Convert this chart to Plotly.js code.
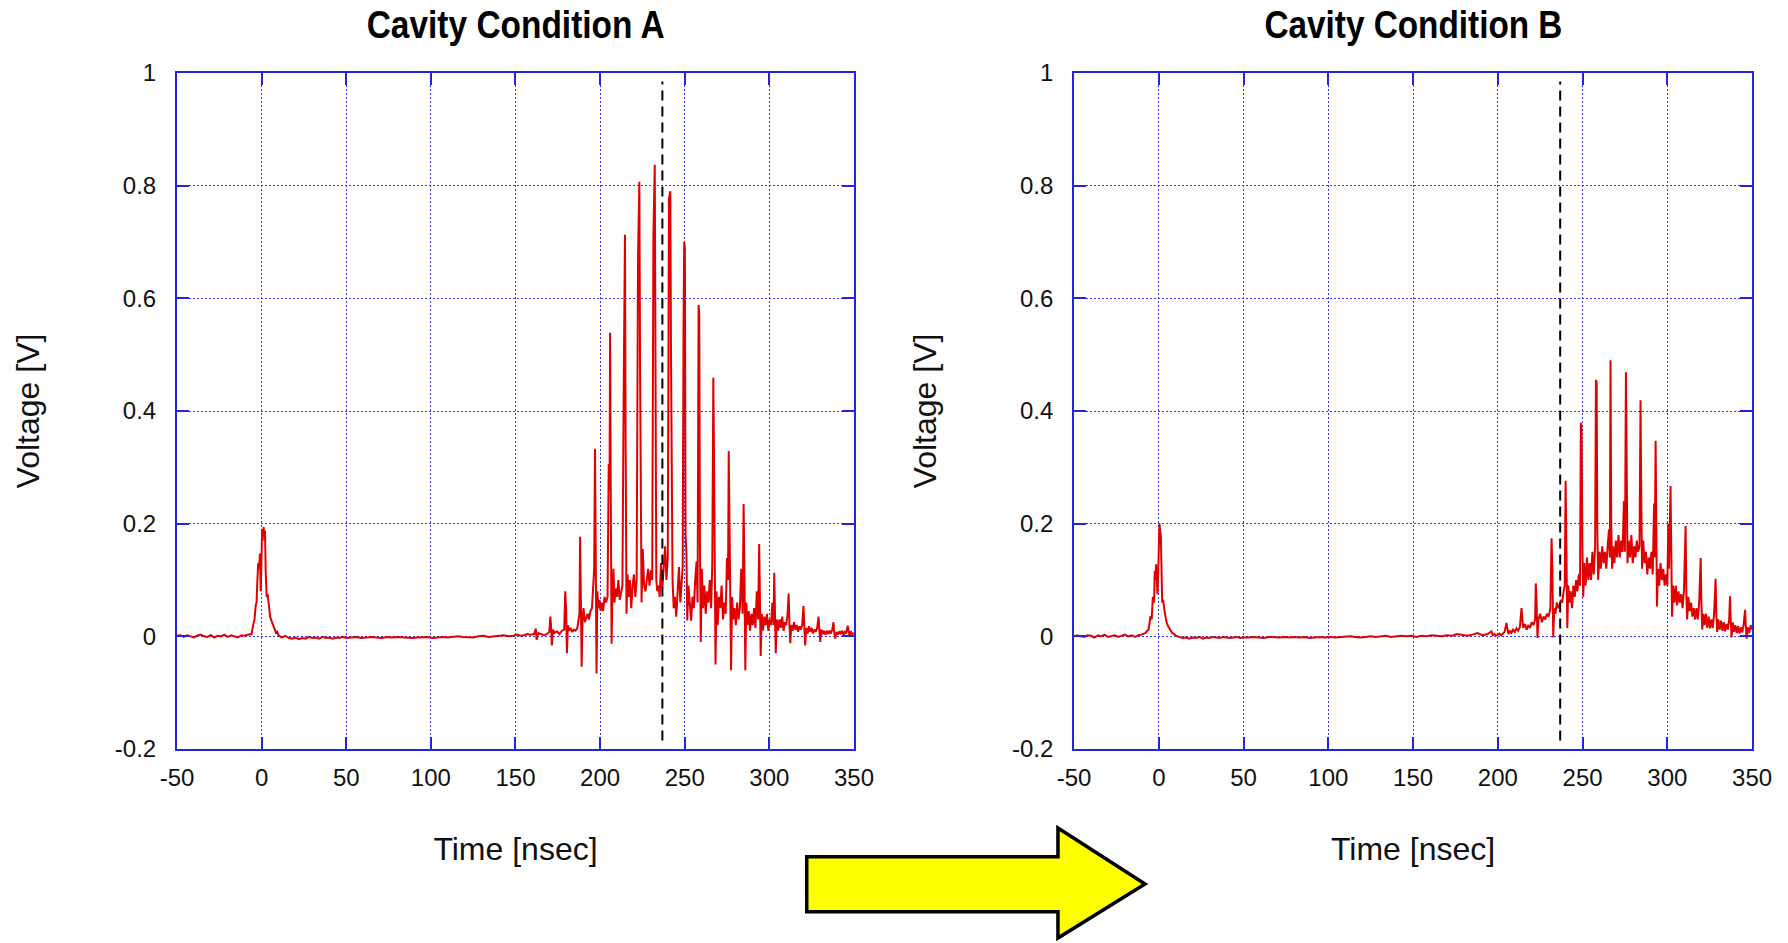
<!DOCTYPE html>
<html>
<head>
<meta charset="utf-8">
<script src="https://cdn.plot.ly/plotly-3.0.1.min.js"></script>
<style>
html,body{margin:0;padding:0;background:#ffffff;}
#chart{width:1788px;height:943px;}
</style>
</head>
<body>
<div id="chart"></div>
<script>
// ---------------- Tick labels ----------------
const xTickVals = [-50, 0, 50, 100, 150, 200, 250, 300, 350];
const xTickText = ['-50', '0', '50', '100', '150', '200', '250', '300', '350'];
const yTickVals = [-0.2, 0, 0.2, 0.4, 0.6, 0.8, 1];
const yTickText = ['-0.2', '0', '0.2', '0.4', '0.6', '0.8', '1'];

// ---------------- Titles ----------------
const panelTitles = ['Cavity Condition A', 'Cavity Condition B'];
const xTitle = 'Time [nsec]';
const yTitle = 'Voltage [V]';

// ---------------- Reference marker (dashed line) ----------------
const cutTime = [236.8, 236.8];
const cutVolt = [-0.185, 0.985];

// ---------------- Condition A : time [ns] / voltage [V] ----------------
const tA1 = [-50,-48,-46,-44,-42,-40,-38,-36,-34,-32,-30,-28,-26,-24,-22,-20,-18,-16,-14,-12,-10,-8,-6];
const vA1 = [0.001,0.002,-0.001,0.002,0,-0.002,0.001,0.003,0,-0.001,0.002,-0.002,0.001,0,0.003,-0.001,0.002,0,-0.002,0.002,0.001,0.003,0.004];

const tA2 = [-5,-4.2,-3.5,-3,-2.5,-2,-1.5,-1,-0.5,0,0.3,0.8,1.2,1.6,2,2.4,3,3.5,4,4.5,5,5.9,6.5,7.5,8.5,9.2,10];
const vA2 = [0.02,0.03,0.055,0.06,0.1,0.13,0.12,0.147,0.08,0.15,0.19,0.185,0.194,0.17,0.188,0.114,0.07,0.075,0.055,0.05,0.035,0.025,0.022,0.014,0.006,0.008,0.002];

const tA3 = [12,14,16,18,20,22,24,26,28,30,32,34,36,38,40,42,44,46,48,50,
             53,56,59,62,65,68,71,74,77,80,83,86,89,92,95,98,101,104,107,110,113,116,119,122,125,128,131,134,137,140,143,146,149,
             151,153,155,157,159];
const vA3 = [-0.002,0.001,-0.003,-0.004,-0.002,-0.005,-0.003,-0.004,-0.001,-0.003,-0.002,-0.004,-0.001,-0.003,-0.002,-0.004,-0.002,-0.003,-0.001,-0.003,
             -0.002,-0.001,-0.003,-0.002,-0.001,-0.002,-0.003,-0.001,-0.002,-0.001,-0.002,-0.002,-0.003,-0.002,-0.002,-0.001,-0.003,-0.002,-0.001,-0.002,-0.001,0,-0.001,-0.001,-0.002,0,0.001,-0.001,0,0.001,0.002,0,0.001,
             0.003,0.001,0.002,0.004,0.003];

const tA4 = [161,162,162.5,163.5,165,167,169,170,
             170.6,171,171.5,172.2,173,174.5,176,177.5,178.8,
             179.4,179.9,180.4,181,181.7,182.5,183.5,184.5,185.5,186.5,187.4,187.8,
             188.2,188.6,189.1,189.6,190.2,191,191.8,192.6,193.4,194.3,195.2,196,196.5,
             197,197.4,197.9,198.4,199,199.6];
const vA4 = [0.004,0.014,-0.006,0.006,0.004,0.002,0.005,0.008,
             0.035,0.02,-0.016,0.012,0.006,0.009,0.004,0.01,0.012,
             0.08,0.05,-0.03,0.02,0.01,0.015,0.008,0.012,0.01,0.014,0.03,0.04,
             0.177,0.09,-0.054,0.03,0.05,0.025,0.035,0.04,0.03,0.045,0.05,0.11,0.12,
             0.333,0.15,-0.066,0.08,0.05,0.065];

const tA5 = [200.3,201,201.8,202.6,203.5,204.4,
             205.1,205.6,205.9,206.3,206.8,207.3,207.9,208.5,209.2,210,210.8,211.6,212.4,213.2,213.9,
             214.7,215.1,215.6,216.2,216.9,217.6,218.4,219.2,220,220.8,221.6,222.4,
             223.2,223.6,224,224.5,225.2,226,226.8,227.6,228.4,229.2,230,230.8,231.5,
             232.3,232.7,233.2,233.8,234.5,235.2,236,236.8,237.6,238.4,239.2,240,240.7];
const vA5 = [0.045,0.06,0.045,0.07,0.06,0.07,
             0.306,0.26,0.539,0.25,-0.013,0.08,0.12,0.06,0.085,0.07,0.1,0.065,0.08,0.09,0.42,
             0.713,0.33,0.04,0.11,0.07,0.1,0.05,0.09,0.11,0.07,0.1,0.67,
             0.807,0.49,0.2,0.06,0.155,0.09,0.08,0.1,0.12,0.09,0.117,0.1,0.71,
             0.837,0.395,0.1,0.08,0.09,0.07,0.13,0.085,0.13,0.16,0.1,0.14,0.777];

const tA6 = [241.5,241.9,242.3,242.8,243.5,244.2,245,245.8,246.6,247.4,248.2,248.8,
             249.3,249.7,250.1,250.5,251,251.5,252.2,253,253.8,254.6,255.4,256.2,257,257.6,
             258.2,258.6,259,259.5,260.1,260.8,261.6,262.4,263.2,264,264.8,265.6,266.3,
             266.9,267.3,267.8,268.2,268.8,269.5,270.2,271,271.8,272.6,273.4,274.2,275,275.6,
             276,276.4,276.9,277.4,278,278.7,279.4,280.2,281,281.8,282.6,283.4,284.2,
             284.8,285.3,285.8,286.4,287,287.8,288.6,289.4,290.2,291,291.8,292.6,293.4,
             294,294.4,294.9,295.5,296.2,297,297.8,298.6,299.4];
const vA6 = [0.79,0.5,0.29,0.1,0.05,0.07,0.035,0.09,0.123,0.06,0.1,0.123,
             0.55,0.70,0.69,0.18,0.15,0.028,0.09,0.06,0.028,0.07,0.05,0.1,0.133,0.06,
             0.588,0.57,0.164,-0.01,0.12,0.05,0.09,0.04,0.08,0.06,0.1,0.05,0.13,
             0.459,0.325,0.12,-0.05,0.08,0.02,0.07,0.05,0.09,0.03,0.06,0.04,0.139,0.1,
             0.329,0.2,0.08,-0.06,0.07,0.03,0.05,0.02,0.06,0.03,0.05,0.12,0.04,
             0.235,0.11,-0.06,0.06,0.02,0.045,0.01,0.04,0.02,0.05,0.015,0.08,0.03,
             0.164,0.06,-0.035,0.04,0.01,0.035,0.02,0.04,0.01];

const tA7 = [300.2,301,301.8,302.5,
             302.9,303.3,303.8,304.4,305.2,306,306.8,307.6,308.4,309.2,310,310.8,
             311.4,311.9,312.4,313,313.8,314.6,315.4,316.2,317,317.8,318.6,319.4,
             320.2,320.7,321.2,321.8,322.6,323.4,324.2,325,325.8,326.6,327.4,328.2,
             329.1,329.6,330.1,330.8,331.6,332.4,333.2,334,334.8,335.6,336.4,337.2,
             337.9,338.4,339,339.8,340.6,341.4,342.2,343,343.8,344.6,345.4,
             346.3,346.8,347.4,348.2,349,350];
const vA7 = [0.03,0.02,0.06,0.02,
             0.113,0.04,-0.03,0.03,0.01,0.03,0.015,0.035,0.01,0.025,0.02,0.04,
             0.076,0.02,-0.012,0.02,0.01,0.025,0.012,0.02,0.008,0.018,0.012,0.02,
             0.054,0.015,-0.016,0.015,0.005,0.018,0.008,0.015,0.005,0.012,0.008,0.014,
             0.035,0.01,-0.01,0.012,0.004,0.01,0.003,0.01,0.004,0.01,0.005,0.012,
             0.025,0.006,-0.004,0.008,0.003,0.009,0.004,0.01,0.002,0.008,0.005,
             0.019,0.008,0.001,0.009,0.004,0.006];

// ---------------- Condition B : time [ns] / voltage [V] ----------------
const tB1 = [-50,-48,-46,-44,-42,-40,-38,-36,-34,-32,-30,-28,-26,-24,-22,-20,-18,-16,-14,-12,-10,-8.5];
const vB1 = [0,0.002,0,-0.001,0.002,0.001,-0.002,0.002,0,0.003,-0.001,0.001,0.002,-0.001,0.001,0.003,0,0.002,-0.001,0.002,0.003,0.005];

const tB2 = [-7.8,-6.8,-6,-4.9,-4.2,-3.5,-2.8,-2.4,-2,-1.6,-1.2,-0.8,-0.3,0,0.4,0.7,1.2,1.6,2,2.5,2.9,3.4,3.9,4.6,5.5,6.5,7.9,9,10];
const vB2 = [0.006,0.01,0.012,0.036,0.03,0.07,0.06,0.116,0.1,0.128,0.11,0.075,0.12,0.155,0.2,0.19,0.179,0.12,0.06,0.065,0.05,0.045,0.036,0.025,0.018,0.012,0.006,0.004,0.001];

const tB3 = [12,14,16,18,20,22,24,26,28,30,32,34,36,38,40,42,44,46,48,50,
             53,56,59,62,65,68,71,74,77,80,
             83,86,89,92,95,98,101,104,107,110,
             113,116,119,122,125,128,131,134,137,140,
             143,146,149,152,155,158,161,164,167,170,
             173,176,179,182,185,188,191,194];
const vB3 = [-0.001,-0.003,-0.002,-0.004,-0.002,-0.003,-0.001,-0.004,-0.002,-0.003,-0.001,-0.002,-0.003,-0.001,-0.002,-0.003,-0.002,-0.001,-0.003,-0.002,
             -0.002,-0.001,-0.002,-0.003,-0.001,-0.002,-0.002,-0.001,-0.002,-0.001,
             -0.002,-0.001,-0.003,-0.002,-0.001,-0.002,-0.001,-0.002,-0.001,-0.001,
             0,-0.001,-0.002,-0.001,0,-0.001,0,0.001,-0.001,0,
             0.001,0,0.001,-0.001,0.001,0,0.002,0.001,0,0.002,
             0.001,0.004,0.002,0.001,0.003,0.006,0.002,0.004];

const tB4 = [196.3,197,198,199,200,201,202,203,204,
             205.1,205.6,206.2,207,208,209,210,211,212,213,
             214,214.5,215,216,217,218,219,220,221,222,
             222.4,222.9,223.4,224,225,226,227,228,229,230,231,
             231.7,232.2,232.7,233.3,234,234.8,235.6,236.4,237.2,238,238.8,239.5];
const vB4 = [0.009,0.002,0.004,0.001,0.003,0.005,0.002,0.006,0.008,
             0.024,0.01,0.004,0.01,0.006,0.012,0.008,0.014,0.01,0.016,
             0.05,0.03,0.015,0.022,0.012,0.02,0.015,0.025,0.02,0.03,
             0.094,0.06,-0.003,0.03,0.04,0.025,0.035,0.03,0.04,0.035,0.05,
             0.174,0.12,-0.002,0.05,0.04,0.06,0.05,0.055,0.065,0.06,0.08,0.09];

const tB5 = [240,240.5,241,241.6,242.3,243,243.8,244.6,245.4,246.2,247,247.8,248.5,
             249,249.4,249.9,250.4,251,251.8,252.6,253.4,254.2,255,255.8,256.6,257.4,
             257.9,258.3,258.7,259.2,260,260.8,261.6,262.4,263.2,264,264.8,265.6,266.1,
             266.5,266.9,267.4,268,268.8,269.6,270.4,271.2,272,272.8,273.6,274.4,275,
             275.6,276,276.5,277.2,278,278.8,279.6,280.4,281.2,282,282.8,283.6,
             284.2,284.6,285.1,285.8,286.6,287.4,288.2,289,289.8,290.6,291.4,292.2,292.6];
const vB5 = [0.276,0.12,0.015,0.09,0.06,0.08,0.05,0.09,0.07,0.1,0.08,0.11,0.09,
             0.379,0.37,0.16,0.07,0.13,0.09,0.14,0.1,0.13,0.1,0.15,0.11,0.16,
             0.455,0.45,0.19,0.1,0.15,0.12,0.16,0.13,0.15,0.12,0.16,0.19,0.14,
             0.49,0.206,0.12,0.16,0.13,0.17,0.14,0.18,0.14,0.17,0.15,0.24,0.15,
             0.469,0.2,0.13,0.17,0.14,0.18,0.13,0.16,0.14,0.17,0.15,0.16,
             0.419,0.257,0.12,0.17,0.13,0.15,0.11,0.14,0.12,0.15,0.11,0.236,0.14];

const tB6 = [293.1,293.5,293.9,294.5,295.2,296,296.8,297.6,298.4,299.2,300,300.6,301,
             301.9,302.3,302.8,303.4,304.2,305,305.8,306.6,307.4,308.2,309,309.8,
             310.8,311.2,311.7,312.4,313.2,314,314.8,315.6,316.4,317.2,318,318.8,
             319.7,320.1,320.6,321.3,322,322.8,323.6,324.4,325.2,326,326.8,327.6,
             328.5,328.9,329.4,330.1,330.9,331.7,332.5,333.3,334.1,334.9,335.7,336.5,
             337,337.4,337.9,338.6,339.4,340.2,341,341.8,342.6,343.4,344.2,345,
             345.9,346.3,346.8,347.5,348.3,349.2,350];
const vB6 = [0.347,0.15,0.053,0.12,0.09,0.13,0.1,0.12,0.09,0.11,0.09,0.2,0.12,
             0.267,0.12,0.035,0.09,0.06,0.09,0.055,0.08,0.06,0.075,0.05,0.08,
             0.196,0.08,0.03,0.07,0.045,0.06,0.035,0.05,0.03,0.05,0.03,0.06,
             0.139,0.06,0.012,0.04,0.02,0.04,0.015,0.035,0.014,0.03,0.015,0.04,
             0.102,0.04,0.008,0.03,0.012,0.028,0.01,0.025,0.009,0.022,0.012,0.03,
             0.071,0.03,-0.002,0.025,0.008,0.02,0.006,0.018,0.005,0.016,0.007,0.02,
             0.047,0.018,-0.004,0.016,0.006,0.02,0.012];

// ---------------- Assemble ----------------
const timeA = [].concat(tA1, tA2, tA3, tA4, tA5, tA6, tA7);
const voltA = [].concat(vA1, vA2, vA3, vA4, vA5, vA6, vA7);
const timeB = [].concat(tB1, tB2, tB3, tB4, tB5, tB6);
const voltB = [].concat(vB1, vB2, vB3, vB4, vB5, vB6);
[[tA1,vA1,'A1'],[tA2,vA2,'A2'],[tA3,vA3,'A3'],[tA4,vA4,'A4'],[tA5,vA5,'A5'],[tA6,vA6,'A6'],[tA7,vA7,'A7'],
 [tB1,vB1,'B1'],[tB2,vB2,'B2'],[tB3,vB3,'B3'],[tB4,vB4,'B4'],[tB5,vB5,'B5'],[tB6,vB6,'B6']].forEach(function(p){
  if (p[0].length !== p[1].length) throw new Error('length mismatch in ' + p[2] + ': ' + p[0].length + ' vs ' + p[1].length);
});

// ---------------- Style ----------------
const FRAME = '#2323e6';
const GRID = '#3434ff';
const SIGNAL = '#e00000';
const FONT = 'Liberation Sans, Arial, Helvetica, sans-serif';
const TEXT = '#111111';
const TITLE_WIDTH_PX = 298;

function xAxis(domain, anchor) {
  return {
    domain: domain, anchor: anchor, range: [-50, 350],
    tickmode: 'array', tickvals: xTickVals, ticktext: xTickText,
    ticks: 'inside', ticklen: 12, tickwidth: 2, tickcolor: FRAME,
    showline: true, linecolor: FRAME, linewidth: 2, mirror: 'ticks',
    showgrid: true, gridcolor: GRID, gridwidth: 1, griddash: '2px,2px',
    zeroline: false, automargin: false, fixedrange: true,
    tickfont: {family: FONT, size: 24, color: TEXT},
    ticklabelstandoff: 6,
    title: {text: xTitle, font: {family: FONT, size: 32, color: TEXT}, standoff: 48}
  };
}
function yAxis(anchor) {
  return {
    domain: [0.2057, 0.9226], anchor: anchor, range: [-0.2, 1],
    tickmode: 'array', tickvals: yTickVals, ticktext: yTickText,
    ticks: 'inside', ticklen: 12, tickwidth: 2, tickcolor: FRAME,
    showline: true, linecolor: FRAME, linewidth: 2, mirror: 'ticks',
    showgrid: true, gridcolor: GRID, gridwidth: 1, griddash: '2px,2px',
    zeroline: false, automargin: false, fixedrange: true,
    tickfont: {family: FONT, size: 24, color: TEXT},
    ticklabelstandoff: 14,
    title: {text: yTitle, font: {family: FONT, size: 32, color: TEXT}, standoff: 66}
  };
}

const traces = [
  {x: timeA, y: voltA, xaxis: 'x', yaxis: 'y', type: 'scatter', mode: 'lines',
   line: {color: SIGNAL, width: 2}, name: 'Condition A', hoverinfo: 'x+y'},
  {x: cutTime, y: cutVolt, xaxis: 'x', yaxis: 'y', type: 'scatter', mode: 'lines',
   line: {color: '#000000', width: 2, dash: '10px,6px'}, hoverinfo: 'skip'},
  {x: timeB, y: voltB, xaxis: 'x2', yaxis: 'y2', type: 'scatter', mode: 'lines',
   line: {color: SIGNAL, width: 2}, name: 'Condition B', hoverinfo: 'x+y'},
  {x: cutTime, y: cutVolt, xaxis: 'x2', yaxis: 'y2', type: 'scatter', mode: 'lines',
   line: {color: '#000000', width: 2, dash: '10px,6px'}, hoverinfo: 'skip'}
];

const layout = {
  width: 1788, height: 943,
  margin: {l: 0, r: 0, t: 0, b: 0},
  paper_bgcolor: '#ffffff', plot_bgcolor: '#ffffff',
  showlegend: false,
  xaxis: xAxis([0.0990, 0.4776], 'y'),
  yaxis: yAxis('x'),
  xaxis2: xAxis([0.6007, 0.9799], 'y2'),
  yaxis2: yAxis('x2'),
  annotations: [
    {text: '<b>' + panelTitles[0] + '</b>', xref: 'paper', yref: 'paper', x: 0.2883, y: 0.9735,
     xanchor: 'center', yanchor: 'middle', showarrow: false,
     font: {family: FONT, size: 39, color: '#000000'}},
    {text: '<b>' + panelTitles[1] + '</b>', xref: 'paper', yref: 'paper', x: 0.7903, y: 0.9735,
     xanchor: 'center', yanchor: 'middle', showarrow: false,
     font: {family: FONT, size: 39, color: '#000000'}}
  ],
  shapes: [
    {type: 'path', xref: 'paper', yref: 'paper',
     path: 'M 0.4512 0.0915 L 0.5917 0.0915 L 0.5917 0.1220 L 0.6404 0.0626 L 0.5917 0.0053 L 0.5917 0.0332 L 0.4512 0.0332 Z',
     fillcolor: '#ffff00', line: {color: '#000000', width: 3.5}, layer: 'above'}
  ]
};

Plotly.newPlot('chart', traces, layout, {displayModeBar: false, staticPlot: true}).then(function (gd) {
  // The original titles use a condensed bold face: compress them to their measured width.
  gd.querySelectorAll('.annotation-text').forEach(function (t) {
    t.setAttribute('textLength', TITLE_WIDTH_PX);
    t.setAttribute('lengthAdjust', 'spacingAndGlyphs');
  });
});
</script>
</body>
</html>
